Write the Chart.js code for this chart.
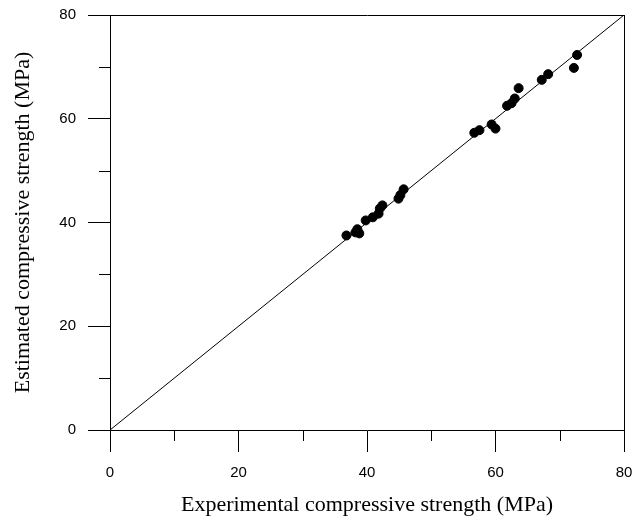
<!DOCTYPE html>
<html lang="en">
<head>
  <meta charset="UTF-8" />
  <title>Experimental vs estimated compressive strength</title>
  <script src="https://cdn.jsdelivr.net/npm/chart.js"></script>
  <style>
    body {
      margin: 0;
      background: white;
    }
    #wrap {
      width: 633px;
      height: 521px;
    }
  </style>
</head>

<body>
  <div id="wrap">
    <canvas id="strengthChart" width="633" height="521"></canvas>
  </div>

  <script>
    // measured vs predicted strength (MPa)
    const experimental = [36.8, 38.2, 38.5, 38.8, 39.8, 40.9, 41.8, 42.0, 42.4, 44.9, 45.2, 45.7,
                          56.7, 57.5, 59.4, 60.0, 61.8, 62.5, 63.0, 63.6, 67.2, 68.2, 72.2, 72.7];
    const estimated = [37.5, 38.1, 38.7, 37.9, 40.4, 41.0, 41.7, 42.7, 43.3, 44.6, 45.3, 46.4,
                       57.3, 57.8, 58.9, 58.1, 62.5, 63.0, 63.9, 65.9, 67.5, 68.6, 69.8, 72.3];
    // line of equality
    const equalityLine = [0, 80];

    const majorTicks = [0, 20, 40, 60, 80];
    const minorTicks = [10, 30, 50, 70];

    const points = experimental.map((x, i) => ({ x: x, y: estimated[i] }));

    // short minor tick marks on both axes
    const minorTickPlugin = {
      id: 'minorTicks',
      afterDraw(chart) {
        const ctx = chart.ctx;
        const xs = chart.scales.x;
        const ys = chart.scales.y;
        ctx.save();
        ctx.strokeStyle = '#000';
        ctx.lineWidth = 1;
        ctx.beginPath();
        minorTicks.forEach(v => {
          const px = Math.round(xs.getPixelForValue(v)) + 0.5;
          ctx.moveTo(px, xs.top);
          ctx.lineTo(px, xs.top + 11);
          const py = Math.round(ys.getPixelForValue(v)) + 0.5;
          ctx.moveTo(ys.right, py);
          ctx.lineTo(ys.right - 11, py);
        });
        ctx.stroke();
        ctx.restore();
      }
    };

    // keep end labels from pushing the plot area inwards
    function noOverflow(s) {
      s.paddingLeft = 0;
      s.paddingRight = 0;
      s.paddingTop = 0;
      s.paddingBottom = 0;
    }

    const tickFont = { family: 'Liberation Sans', size: 15 };
    const titleFont = { family: 'Liberation Serif', size: 22 };

    new Chart(document.getElementById('strengthChart'), {
      type: 'scatter',
      data: {
        datasets: [
          {
            data: points,
            backgroundColor: '#000',
            borderColor: '#000',
            pointRadius: 4.5,
            pointHoverRadius: 4.5
          },
          {
            data: equalityLine.map(v => ({ x: v, y: v })),
            showLine: true,
            borderColor: '#000',
            borderWidth: 1,
            pointRadius: 0
          }
        ]
      },
      options: {
        responsive: false,
        animation: false,
        plugins: {
          legend: { display: false },
          tooltip: { enabled: false }
        },
        layout: {
          padding: { top: 15, right: 9, left: 0, bottom: 0 }
        },
        scales: {
          x: {
            type: 'linear',
            position: 'bottom',
            min: 0,
            max: 80,
            afterBuildTicks: s => { s.ticks = majorTicks.map(v => ({ value: v })); },
            afterFit: s => { s.height = 91; noOverflow(s); },
            ticks: { color: '#000', font: tickFont, padding: 12 },
            grid: { drawOnChartArea: false, tickLength: 22, tickColor: '#000' },
            border: { color: '#000', width: 1 },
            title: {
              display: true,
              text: 'Experimental compressive strength (MPa)',
              color: '#000',
              font: titleFont,
              padding: { top: 0, bottom: 3 }
            }
          },
          y: {
            type: 'linear',
            position: 'left',
            min: 0,
            max: 80,
            afterBuildTicks: s => { s.ticks = majorTicks.map(v => ({ value: v })); },
            afterFit: s => { s.width = 110; noOverflow(s); },
            ticks: { color: '#000', font: tickFont, padding: 12 },
            grid: { drawOnChartArea: false, tickLength: 22, tickColor: '#000' },
            border: { color: '#000', width: 1 },
            title: {
              display: true,
              text: 'Estimated compressive strength (MPa)',
              color: '#000',
              font: titleFont,
              padding: { top: 10, bottom: 0 }
            }
          },
          xTop: {
            type: 'linear',
            position: 'top',
            min: 0,
            max: 80,
            afterFit: s => { s.height = 0; noOverflow(s); },
            ticks: { display: false },
            grid: { drawOnChartArea: false, drawTicks: false },
            border: { color: '#000', width: 1 }
          },
          yRight: {
            type: 'linear',
            position: 'right',
            min: 0,
            max: 80,
            afterFit: s => { s.width = 0; noOverflow(s); },
            ticks: { display: false },
            grid: { drawOnChartArea: false, drawTicks: false },
            border: { color: '#000', width: 1 }
          }
        }
      },
      plugins: [minorTickPlugin]
    });
  </script>
</body>
</html>
